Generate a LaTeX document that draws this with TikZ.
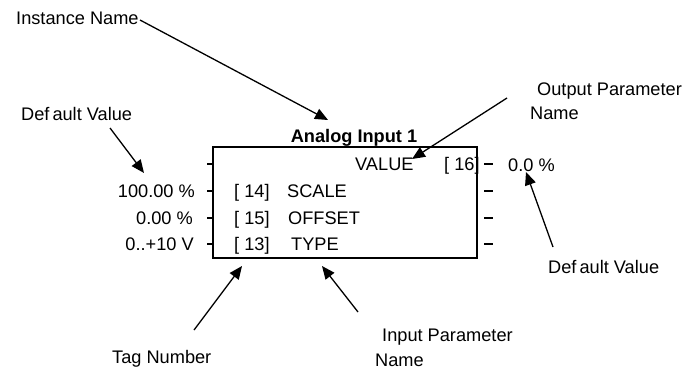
\documentclass[tikz,border=0pt]{standalone}
\usepackage{fontspec}
\setmainfont{Liberation Sans}
\usetikzlibrary{arrows.meta}
\begin{document}
\begin{tikzpicture}[x=1pt,y=-1pt,
  lbl/.style={inner sep=0pt,text height=13pt,text depth=0pt,font=\fontsize{18.2}{20}\selectfont},
  ptr/.style={line width=1.3pt,-{Triangle[length=13pt,width=11pt]}},
  tick/.style={line width=1.2pt},
  blockbox/.style={draw,line width=2.2pt}]
\useasboundingbox (0,0) rectangle (687,369);
% block
\draw[blockbox] (213,147) rectangle (477,258);
\node[lbl,font=\fontsize{18.2}{20}\selectfont\bfseries] (title) at (354,136) {Analog Input 1};
% ticks
\foreach \yy in {164,191,218,244} \draw[tick] (207,\yy) -- (214,\yy);
\foreach \yy in {164,191,218,244} \draw[tick] (484,\yy) -- (493,\yy);
% inside texts
\node[lbl,anchor=west] (value) at (355,164) {VALUE};
\node[lbl,anchor=west] (t16) at (444,164) {[ 16]};
\node[lbl,anchor=west] (t14) at (234,191) {[ 14]};
\node[lbl,anchor=west] (scale) at (287,191) {SCALE};
\node[lbl,anchor=west] (t15) at (234,218) {[ 15]};
\node[lbl,anchor=west] (offset) at (288,218) {OFFSET};
\node[lbl,anchor=west] (t13) at (234,244) {[ 13]};
\node[lbl,anchor=west] (type) at (291,244) {TYPE};
% defaults
\node[lbl,anchor=east] (d1) at (195,191) {100.00 \%};
\node[lbl,anchor=east] (d2) at (193,218) {0.00 \%};
\node[lbl,anchor=east] (d3) at (194,244) {0..+10 V};
\node[lbl,anchor=west] (out) at (508,165) {0.0 \%};
% annotation labels
\node[lbl,anchor=west] (inst) at (16,18) {Instance Name};
\node[lbl,anchor=west] (defl) at (21,114) {Def\kern3pt ault Value};
\node[lbl,anchor=west] (opn1) at (537,89) {Output Parameter};
\node[lbl,anchor=west] (opn2) at (530,113) {Name};
\node[lbl,anchor=west] (defr) at (548,267) {Def\kern3pt ault Value};
\node[lbl,anchor=west] (tag) at (112,357) {Tag Number};
\node[lbl,anchor=west] (ipn1) at (382,335) {Input Parameter};
\node[lbl,anchor=west] (ipn2) at (375,360) {Name};
% arrow end points
\coordinate (a1s) at (140,20);  \coordinate (a1e) at (328,120);
\coordinate (a2s) at (110,128); \coordinate (a2e) at (144,173);
\coordinate (a3s) at (507,98);  \coordinate (a3e) at (412,159);
\coordinate (a4s) at (553,247); \coordinate (a4e) at (526,172);
\coordinate (a5s) at (194,330); \coordinate (a5e) at (242,266);
\coordinate (a6s) at (358,312); \coordinate (a6e) at (322,266);
\draw[ptr] (a1s) -- (a1e);
\draw[ptr] (a2s) -- (a2e);
\draw[ptr] (a3s) -- (a3e);
\draw[ptr] (a4s) -- (a4e);
\draw[ptr] (a5s) -- (a5e);
\draw[ptr] (a6s) -- (a6e);
\end{tikzpicture}
\end{document}
